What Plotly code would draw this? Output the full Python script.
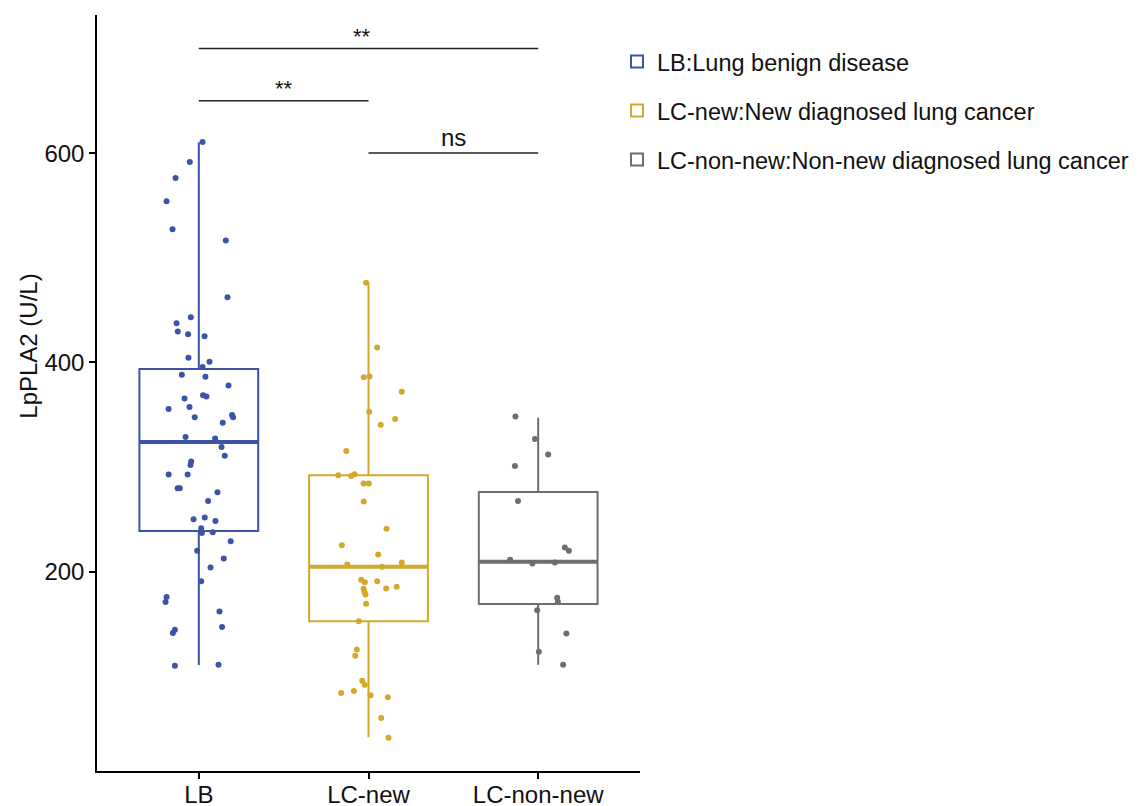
import plotly.graph_objects as go

categories = ["LB", "LC-new", "LC-non-new"]
legend_names = ["LB:Lung benign disease",
                "LC-new:New diagnosed lung cancer",
                "LC-non-new:Non-new diagnosed lung cancer"]
colors = ["#3B54A5", "#D3A92C", "#6E6E6E"]

LB_values = [610.7, 591.6, 576.3, 554.0, 527.3, 516.5, 462.3, 443.2, 437.5, 429.6,
             427.0, 425.1, 404.5, 400.7, 395.5, 388.3, 386.3, 377.8, 365.6, 368.5,
             367.3, 355.4, 357.3, 347.5, 349.7, 347.5, 342.4, 328.7, 327.2, 319.1,
             310.9, 305.2, 302.0, 292.8, 292.8, 279.7, 279.7, 275.9, 267.6, 250.1,
             251.7, 248.5, 241.5, 237.0, 237.7, 229.1, 219.9, 212.6, 204.0, 190.9,
             175.9, 170.9, 162.0, 147.0, 144.4, 141.3, 110.1, 111.0]
LB_jitter = [0.022, -0.053, -0.137, -0.190, -0.155, 0.159, 0.169, -0.047, -0.131, -0.124,
             -0.063, 0.034, -0.061, 0.063, 0.022, -0.100, 0.039, 0.175, -0.084, 0.025,
             0.045, -0.178, -0.055, -0.024, 0.196, 0.202, 0.141, -0.078, 0.096, 0.134,
             0.153, -0.045, -0.049, -0.178, -0.066, -0.125, -0.112, 0.110, 0.055, -0.031,
             0.035, 0.098, 0.014, 0.018, 0.082, 0.188, -0.010, 0.147, 0.069, 0.014,
             -0.190, -0.196, 0.122, 0.137, -0.141, -0.153, -0.141, 0.116]

LCnew_values = [476.1, 414.3, 385.7, 386.6, 372.0, 352.9, 345.9, 340.5, 315.3, 292.1,
                291.5, 293.1, 284.2, 284.2, 267.0, 240.9, 225.3, 216.4, 208.8, 206.9,
                204.6, 192.2, 190.0, 190.9, 185.5, 184.0, 183.6, 180.7, 178.2, 169.3,
                152.5, 125.7, 119.6, 95.8, 91.9, 84.0, 85.9, 81.8, 79.9, 60.1, 41.3]
LCnew_jitter = [-0.014, 0.051, -0.028, 0.006, 0.196, 0.004, 0.157, 0.072, -0.131, -0.178,
                -0.102, -0.082, -0.029, 0.002, -0.028, 0.106, -0.157, 0.057, 0.196, -0.125,
                0.081, -0.043, -0.022, 0.051, 0.166, 0.104, -0.029, -0.024, -0.018, -0.014,
                -0.057, -0.069, -0.078, -0.037, -0.022, -0.161, -0.086, 0.012, 0.114, 0.075,
                0.118]

LCnonnew_values = [348.2, 326.8, 311.9, 301.0, 267.6, 223.1, 219.9, 211.3, 207.8, 208.8,
                   175.0, 171.2, 163.2, 141.0, 123.4, 111.0]
LCnonnew_jitter = [-0.134, -0.019, 0.059, -0.137, -0.119, 0.157, 0.181, -0.165, -0.034, 0.098,
                   0.112, 0.116, -0.006, 0.166, 0.004, 0.147]

box_q1 = [238.9, 152.5, 169.0]
box_median = [323.9, 204.6, 209.4]
box_q3 = [393.8, 292.1, 276.2]
box_lower = [110.7, 41.7, 111.0]
box_upper = [610.3, 476.1, 347.2]

# significance comparisons: (group a, group b, bracket height, label)
sig_a = [0, 0, 1]
sig_b = [2, 1, 2]
sig_y = [700, 650, 600]
sig_label = ["**", "**", "ns"]

values = [LB_values, LCnew_values, LCnonnew_values]
jitters = [LB_jitter, LCnew_jitter, LCnonnew_jitter]

FONT = "Liberation Sans, Arial, sans-serif"
BOX_W = 0.7

fig = go.Figure()

for i in range(3):
    fig.add_trace(go.Box(
        x=[i], q1=[box_q1[i]], median=[box_median[i]], q3=[box_q3[i]],
        lowerfence=[box_lower[i]], upperfence=[box_upper[i]],
        width=BOX_W, whiskerwidth=0, boxpoints=False,
        fillcolor="rgba(255,255,255,0)",
        line=dict(color=colors[i], width=2),
        name=legend_names[i], legendgroup=f"g{i}", showlegend=True,
        hoverinfo="skip",
    ))

for i in range(3):
    fig.add_trace(go.Scatter(
        x=[i - BOX_W / 2, i + BOX_W / 2], y=[box_median[i], box_median[i]],
        mode="lines", line=dict(color=colors[i], width=4),
        showlegend=False, legendgroup=f"g{i}", hoverinfo="skip",
    ))

for i in range(3):
    fig.add_trace(go.Scatter(
        x=[i + j for j in jitters[i]], y=values[i],
        mode="markers", marker=dict(color=colors[i], size=6),
        showlegend=False, legendgroup=f"g{i}",
    ))

for a, b, yv, lab in zip(sig_a, sig_b, sig_y, sig_label):
    fig.add_shape(type="line", xref="x", yref="y", x0=a, x1=b, y0=yv, y1=yv,
                  line=dict(color="#222222", width=1.5))
    fig.add_annotation(x=(a + b) / 2, y=yv, xref="x", yref="y", text=lab,
                       showarrow=False, yanchor="middle",
                       yshift=16 if lab == "ns" else 12,
                       xshift=-7 if (a == 0 and b == 2) else 0,
                       font=dict(family=FONT, size=24 if lab == "ns" else 22, color="#111111"))

fig.add_annotation(text="LpPLA2 (U/L)", xref="paper", yref="paper", x=-0.126, y=0.562,
                   textangle=-90, showarrow=False, xanchor="center", yanchor="middle",
                   font=dict(family=FONT, size=24, color="#111111"))

fig.update_layout(
    width=1143, height=806,
    margin=dict(l=89, r=511, t=7, b=43, autoexpand=False),
    paper_bgcolor="white", plot_bgcolor="white",
    font=dict(family=FONT, size=24, color="#111111"),
    showlegend=True,
    legend=dict(xref="container", yref="container", x=0.5328, y=0.9607,
                xanchor="left", yanchor="top", tracegroupgap=15.5,
                font=dict(family=FONT, size=23.5, color="#111111"),
                bgcolor="rgba(0,0,0,0)"),
    xaxis=dict(range=[-0.6, 2.6], tickvals=[0, 1, 2], ticktext=categories,
               showline=True, linecolor="black", linewidth=1.5, showgrid=False,
               zeroline=False, ticks="outside", ticklen=6, tickcolor="black",
               tickwidth=1.5, automargin=False, ticklabelstandoff=-5,
               tickfont=dict(family=FONT, size=24, color="#111111")),
    yaxis=dict(range=[9.5, 732], tickvals=[200, 400, 600],
               showline=True, linecolor="black", linewidth=1.5, showgrid=False,
               zeroline=False, ticks="outside", ticklen=6, tickcolor="black",
               tickwidth=1.5, automargin=False,
               tickfont=dict(family=FONT, size=24, color="#111111")),
)

fig.write_html("out.html")
